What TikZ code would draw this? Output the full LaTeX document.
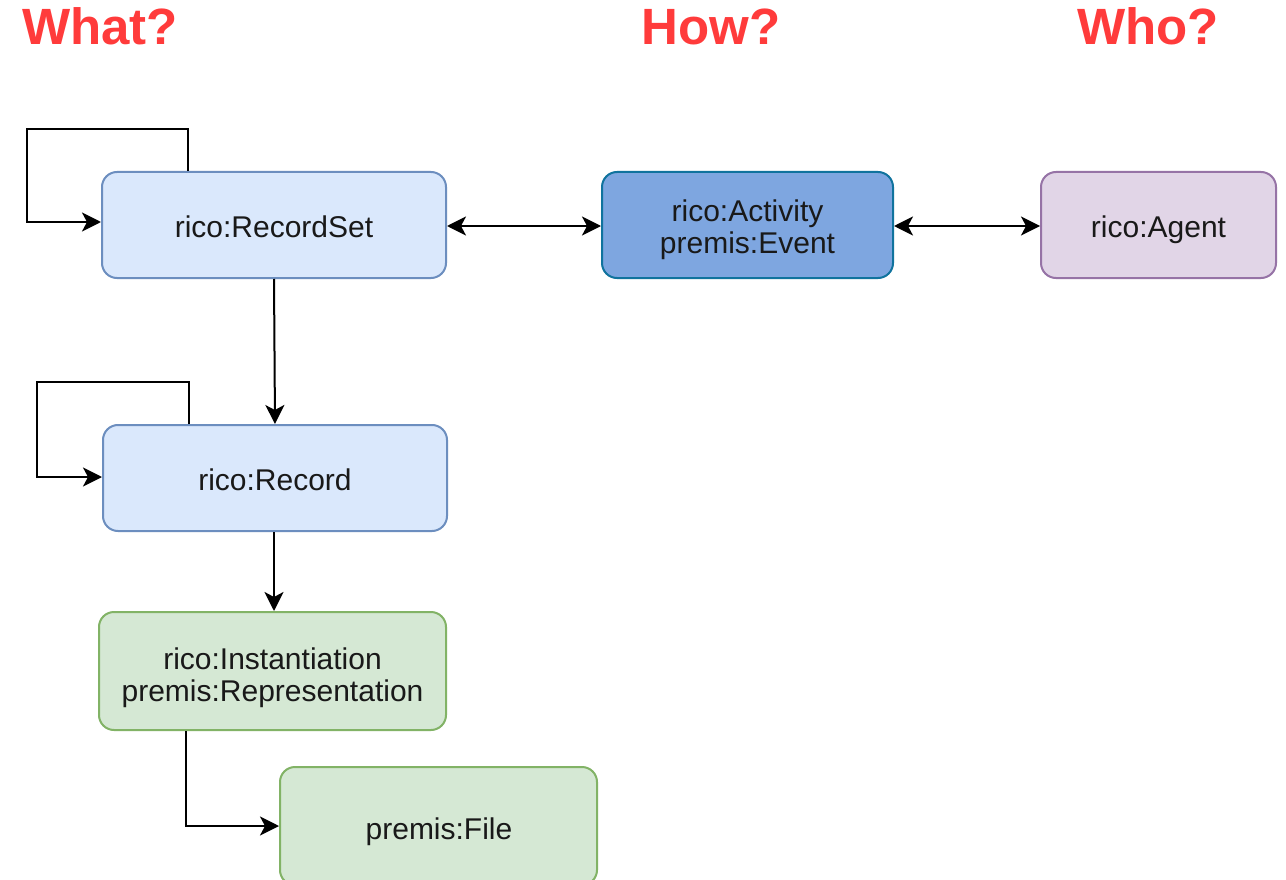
\documentclass[tikz,border=0pt]{standalone}
\usepackage{fontspec}
\setmainfont{Liberation Sans}
\usetikzlibrary{arrows.meta}
\definecolor{hdr}{HTML}{FF3B3B}
\definecolor{bluefill}{HTML}{DAE8FC}
\definecolor{bluedraw}{HTML}{6C8EBF}
\definecolor{darkfill}{HTML}{7EA6E0}
\definecolor{darkdraw}{HTML}{10739E}
\definecolor{purfill}{HTML}{E1D5E7}
\definecolor{purdraw}{HTML}{9673A6}
\definecolor{grnfill}{HTML}{D5E8D4}
\definecolor{grndraw}{HTML}{82B366}
\tikzset{
  box/.style={rectangle, rounded corners=15pt, line width=2pt, inner sep=0pt},
  bluebox/.style={box, fill=bluefill, draw=bluedraw},
  darkbox/.style={box, fill=darkfill, draw=darkdraw},
  purbox/.style={box, fill=purfill, draw=purdraw},
  grnbox/.style={box, fill=grnfill, draw=grndraw},
  lbl/.style={anchor=base, inner sep=0pt, text=black!90, font=\fontsize{30}{32}\selectfont},
  heading/.style={anchor=base, text=hdr, font=\fontsize{51}{56}\selectfont\bfseries, inner sep=0pt},
  arr/.style={line width=2pt, -{Stealth[length=19pt,width=19pt,inset=5pt]}},
  biarr/.style={line width=2pt, {Stealth[length=19pt,width=19pt,inset=5pt]}-{Stealth[length=19pt,width=19pt,inset=5pt]}},
}
\begin{document}
\begin{tikzpicture}[x=1pt,y=-1pt]
\useasboundingbox[fill=white] (0,0) rectangle (1286,880);

% column headings
\node[heading] (what) at (100,45) {What?};
\node[heading] (how) at (711,45) {How?};
\node[heading] (who) at (1148,45) {Who?};

% classes
\node[bluebox, minimum width=344pt, minimum height=106pt] (rs) at (274,225) {};
\node[darkbox, minimum width=291pt, minimum height=106pt] (act) at (747.5,225) {};
\node[purbox, minimum width=235pt, minimum height=106pt] (ag) at (1158.5,225) {};
\node[bluebox, minimum width=344pt, minimum height=106pt] (rec) at (275,478) {};
\node[grnbox, minimum width=347pt, minimum height=118pt] (inst) at (272.5,671) {};
\node[grnbox, minimum width=317pt, minimum height=118pt] (file) at (438.5,826) {};

% class names
\node[lbl] (rs-t) at (274,237.5) {rico:RecordSet};
\node[lbl] (act-t1) at (747.5,221.5) {rico:Activity};
\node[lbl] (act-t2) at (747.5,253.5) {premis:Event};
\node[lbl] (ag-t) at (1158.5,237.5) {rico:Agent};
\node[lbl] (rec-t) at (275,490.5) {rico:Record};
\node[lbl] (inst-t1) at (272.5,669.5) {rico:Instantiation};
\node[lbl] (inst-t2) at (272.5,701.5) {premis:Representation};
\node[lbl] (file-t) at (439,839.5) {premis:File};

% self relations
\coordinate (rsloop) at (27,129);
\draw[arr] ([xshift=-86pt]rs.north) |- (rsloop) |- ([yshift=3pt]rs.west);
\coordinate (recloop) at (37,382);
\draw[arr] ([xshift=-86pt]rec.north) |- (recloop) |- ([yshift=1pt]rec.west);

% hierarchy
\draw[arr] (rs.south) -- (rec.north);
\draw[arr] ([xshift=-1pt]rec.south) -- ([xshift=1.5pt]inst.north);
\draw[arr] ([xshift=-86.5pt]inst.south) |- (file.west);

% activity links
\draw[biarr] ([yshift=-1pt]rs.east) -- ([yshift=-1pt]act.west);
\draw[biarr] ([yshift=-1pt]act.east) -- ([yshift=-1pt]ag.west);
\end{tikzpicture}
\end{document}
